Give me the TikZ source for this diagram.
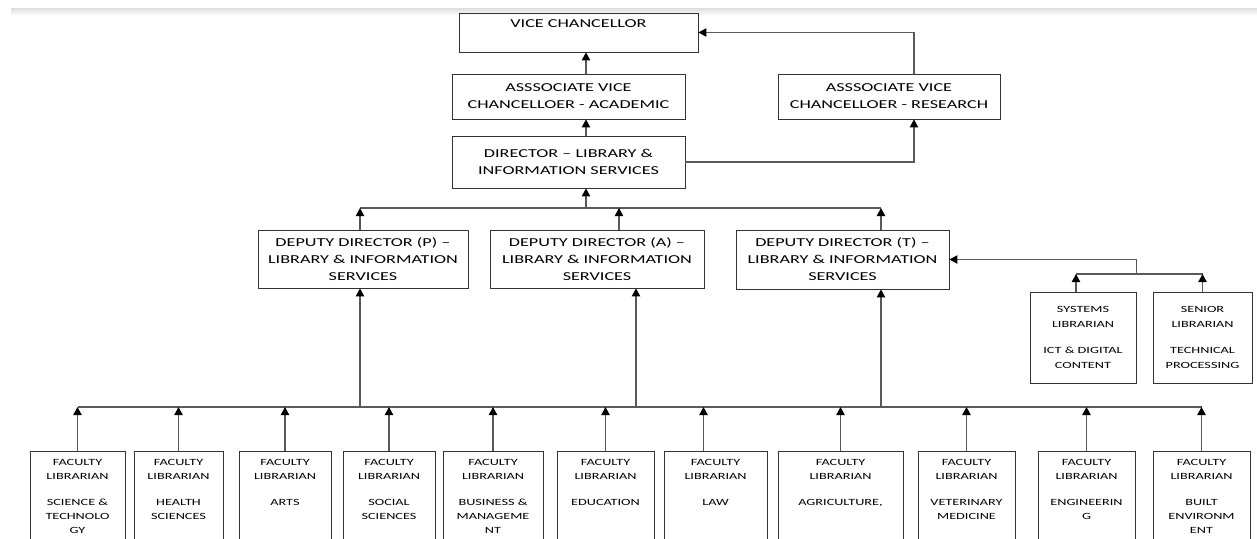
\documentclass[tikz,border=0pt]{standalone}
\usepackage{fontspec}
\setmainfont{Carlito}[FakeStretch=1.5]
\usetikzlibrary{arrows.meta}

\begin{document}
\begin{tikzpicture}[
    x=0.02cm, y=-0.02cm,
    orgbox/.style = {rectangle, draw=black!80, line width=0.45pt, align=center, font=\fontsize{6.9}{9.7}\selectfont, inner sep=0pt},
    subbox/.style = {rectangle, draw=black!80, line width=0.45pt, align=center, font=\fontsize{5.4}{8.4}\selectfont, inner sep=0pt},
    facbox/.style = {rectangle, draw=black!80, line width=0.45pt, align=center, font=\fontsize{5.4}{8}\selectfont, anchor=north, inner xsep=0pt, inner ysep=4.5pt, text depth=60pt},
    link/.style = {draw=black!65, line width=0.7pt},
    arrow/.style = {link, -{Triangle[length=4.6pt, width=4.8pt, color=black]}}
]
\useasboundingbox (0,0) rectangle (1257,538);
\clip (0,0) rectangle (1257,538);
\shade[top color=black!13, bottom color=black!3] (11,8) rectangle (1257,14);

% top levels
\node (vc) [orgbox, minimum width=4.78cm, minimum height=0.78cm] at (578.5,32.5) {VICE CHANCELLOR\\\mbox{}};
\node (avca) [orgbox, minimum width=4.66cm, minimum height=0.9cm] at (568.5,96.5) {ASSSOCIATE VICE\\CHANCELLOER - ACADEMIC};
\node (avcr) [orgbox, minimum width=4.44cm, minimum height=0.9cm] at (889,96.5) {ASSSOCIATE VICE\\CHANCELLOER - RESEARCH};
\node (dir) [orgbox, minimum width=4.66cm, minimum height=1.04cm] at (568.5,162) {DIRECTOR – LIBRARY \&\\INFORMATION SERVICES};

% deputies
\node (ddp) [orgbox, minimum width=4.2cm, minimum height=1.16cm] at (363,259) {DEPUTY DIRECTOR (P) –\\LIBRARY \& INFORMATION\\SERVICES};
\node (dda) [orgbox, minimum width=4.28cm, minimum height=1.16cm] at (597,259) {DEPUTY DIRECTOR (A) –\\LIBRARY \& INFORMATION\\SERVICES};
\node (ddt) [orgbox, minimum width=4.26cm, minimum height=1.18cm] at (842.5,259.5) {DEPUTY DIRECTOR (T) –\\LIBRARY \& INFORMATION\\SERVICES};

\node (sys) [subbox, minimum width=2.12cm, minimum height=1.82cm] at (1083,337.5) {SYSTEMS\\LIBRARIAN\\[6.3pt]ICT \& DIGITAL\\CONTENT};
\node (sen) [subbox, minimum width=1.98cm, minimum height=1.82cm] at (1202.5,337.5) {SENIOR\\LIBRARIAN\\[6.3pt]TECHNICAL\\PROCESSING};

% faculty librarians
\node (fl1) [facbox, minimum width=1.9cm] at (77.5,451) {FACULTY\\LIBRARIAN\\[6.8pt]SCIENCE \&\\TECHNOLO\\GY};
\node (fl2) [facbox, minimum width=1.78cm] at (178.5,451) {FACULTY\\LIBRARIAN\\[6.8pt]HEALTH\\SCIENCES};
\node (fl3) [facbox, minimum width=1.84cm] at (285,451) {FACULTY\\LIBRARIAN\\[6.8pt]ARTS};
\node (fl4) [facbox, minimum width=1.84cm] at (389,451) {FACULTY\\LIBRARIAN\\[6.8pt]SOCIAL\\SCIENCES};
\node (fl5) [facbox, minimum width=2.0cm] at (493,451) {FACULTY\\LIBRARIAN\\[6.8pt]BUSINESS \&\\MANAGEME\\NT};
\node (fl6) [facbox, minimum width=1.94cm] at (605.5,451) {FACULTY\\LIBRARIAN\\[6.8pt]EDUCATION};
\node (fl7) [facbox, minimum width=2.06cm] at (715.5,451) {FACULTY\\LIBRARIAN\\[6.8pt]LAW};
\node (fl8) [facbox, minimum width=2.5cm] at (840.5,451) {FACULTY\\LIBRARIAN\\[6.8pt]AGRICULTURE,};
\node (fl9) [facbox, minimum width=1.94cm] at (966.5,451) {FACULTY\\LIBRARIAN\\[6.8pt]VETERINARY\\MEDICINE};
\node (fl10) [facbox, minimum width=1.94cm] at (1086.5,451) {FACULTY\\LIBRARIAN\\[6.8pt]ENGINEERIN\\G};
\node (fl11) [facbox, minimum width=1.94cm] at (1201.5,451) {FACULTY\\LIBRARIAN\\[6.8pt]BUILT\\ENVIRONM\\ENT};

% bus levels and tap points
\coordinate (ubus) at (0,208);
\coordinate (lbus) at (0,407);
\coordinate (sbus) at (0,274);
\coordinate (tD) at ([xshift=.35cm]dir.south);
\coordinate (tP) at ([xshift=-.06cm]ddp.north);
\coordinate (tA) at ([xshift=.44cm]dda.north);
\coordinate (tT) at ([xshift=.77cm]ddt.north);
\coordinate (bP) at ([xshift=-.06cm]ddp.south);
\coordinate (bA) at ([xshift=.78cm]dda.south);
\coordinate (bT) at ([xshift=.77cm]ddt.south);

% upper links
\draw [arrow] ([xshift=.35cm]avca.north) -- ([xshift=.35cm]avca.north |- vc.south);
\draw [arrow] ([xshift=.35cm]dir.north) -- ([xshift=.35cm]avca.south);
\draw [arrow] ([xshift=.5cm]avcr.north) |- (vc.east);
\draw [arrow] (dir.east) -| ([xshift=.5cm]avcr.south);

\draw [link] (tP |- ubus) -- (tT |- ubus);
\draw [arrow] (tD |- ubus) -- (tD);
\draw [arrow] (tP) -- (tP |- ubus);
\draw [arrow] (tA) -- (tA |- ubus);
\draw [arrow] (tT) -- (tT |- ubus);

% systems and senior librarians
\draw [link] ([xshift=-.14cm]sys.north |- sbus) -- (sen.north |- sbus);
\draw [arrow] ([xshift=-.14cm]sys.north) -- ([xshift=-.14cm]sys.north |- sbus);
\draw [arrow] (sen.north) -- (sen.north |- sbus);
\draw [arrow] (sys.north east |- sbus) |- (ddt.east);

% lower links
\draw [arrow] (bP |- lbus) -- (bP);
\draw [arrow] (bA |- lbus) -- (bA);
\draw [arrow] (bT |- lbus) -- (bT);
\draw [link] (fl1.north |- lbus) -- (fl11.north |- lbus);
\draw [arrow] (fl1.north) -- (fl1.north |- lbus);
\draw [arrow] (fl2.north) -- (fl2.north |- lbus);
\draw [arrow] (fl3.north) -- (fl3.north |- lbus);
\draw [arrow] (fl4.north) -- (fl4.north |- lbus);
\draw [arrow] (fl5.north) -- (fl5.north |- lbus);
\draw [arrow] (fl6.north) -- (fl6.north |- lbus);
\draw [arrow] ([xshift=-.24cm]fl7.north) -- ([xshift=-.24cm]fl7.north |- lbus);
\draw [arrow] (fl8.north) -- (fl8.north |- lbus);
\draw [arrow] (fl9.north) -- (fl9.north |- lbus);
\draw [arrow] (fl10.north) -- (fl10.north |- lbus);
\draw [arrow] (fl11.north) -- (fl11.north |- lbus);

\end{tikzpicture}
\end{document}
